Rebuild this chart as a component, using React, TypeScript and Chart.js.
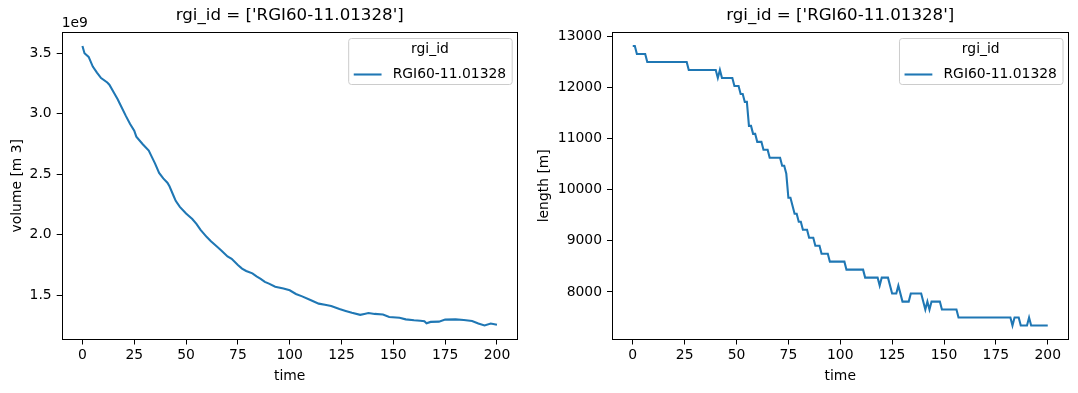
import { useEffect, useRef } from "react";
import { Chart, registerables } from "chart.js";

Chart.register(...registerables);

// Glacier evolution for a single glacier, yearly model output
const GLACIER = "RGI60-11.01328";

// Volume (m³) over time (years)
const VOLUME_TIME = [
  0, 1, 3, 5, 7, 9, 12, 13, 15, 17, 18, 21, 23, 25, 26, 29, 32, 33, 35, 37,
  39, 41, 42, 44, 45, 47, 50, 53, 55, 57, 60, 62, 65, 67, 70, 72, 75, 77, 79,
  82, 84, 86, 88, 90, 93, 97, 100, 103, 106, 110, 114, 117, 120, 124, 127, 130,
  134, 136, 138, 141, 145, 148, 153, 156, 160, 163, 165, 166, 168, 172, 175,
  180, 184, 188, 191, 194, 197, 200,
];
const VOLUME = [
  3.56e9, 3.5e9, 3.47e9, 3.39e9, 3.34e9, 3.295e9, 3.258e9, 3.24e9, 3.18e9,
  3.12e9, 3.085e9, 2.98e9, 2.915e9, 2.86e9, 2.81e9, 2.75e9, 2.695e9, 2.66e9,
  2.59e9, 2.51e9, 2.465e9, 2.43e9, 2.4e9, 2.32e9, 2.28e9, 2.23e9, 2.175e9,
  2.13e9, 2.09e9, 2.04e9, 1.98e9, 1.945e9, 1.9e9, 1.87e9, 1.82e9, 1.8e9,
  1.75e9, 1.72e9, 1.7e9, 1.68e9, 1.655e9, 1.635e9, 1.61e9, 1.595e9, 1.57e9,
  1.555e9, 1.54e9, 1.51e9, 1.49e9, 1.46e9, 1.43e9, 1.42e9, 1.41e9, 1.385e9,
  1.37e9, 1.355e9, 1.337e9, 1.345e9, 1.352e9, 1.345e9, 1.34e9, 1.32e9,
  1.314e9, 1.3e9, 1.292e9, 1.288e9, 1.284e9, 1.268e9, 1.279e9, 1.281e9,
  1.298e9, 1.3e9, 1.294e9, 1.287e9, 1.266e9, 1.249e9, 1.265e9, 1.255e9,
];

// Length (m) over time (years), listed where the length changes
const LENGTH_TIME = [
  0, 1, 2, 6, 7, 26, 27, 40, 41, 42, 43, 48, 49, 51, 52, 53, 54, 55, 56, 57,
  58, 59, 60, 62, 63, 65, 66, 71, 72, 73, 74, 75, 76, 78, 79, 80, 81, 82, 84,
  85, 87, 88, 90, 91, 94, 95, 102, 103, 111, 112, 118, 119, 120, 123, 125,
  127, 128, 130, 133, 134, 139, 140, 141, 142, 143, 144, 148, 149, 156, 157,
  182, 183, 184, 186, 187, 190, 191, 192, 200,
];
const LENGTH = [
  12820, 12820, 12663, 12663, 12507, 12507, 12350, 12350, 12194, 12350, 12194,
  12194, 12037, 12037, 11880, 11880, 11724, 11724, 11254, 11254, 11098, 11098,
  10941, 10941, 10785, 10785, 10628, 10628, 10471, 10471, 10315, 9845, 9845,
  9532, 9532, 9376, 9376, 9219, 9219, 9062, 9062, 8906, 8906, 8749, 8749, 8593,
  8593, 8436, 8436, 8280, 8280, 8123, 8280, 8280, 7967, 7967, 8123, 7810, 7810,
  7967, 7967, 7810, 7654, 7810, 7654, 7810, 7810, 7654, 7654, 7497, 7497, 7341,
  7497, 7497, 7341, 7341, 7497, 7341, 7341,
];

const TIME_TICKS = [0, 25, 50, 75, 100, 125, 150, 175, 200];
const VOLUME_TICKS = [1.5e9, 2.0e9, 2.5e9, 3.0e9, 3.5e9];
const LENGTH_TICKS = [8000, 9000, 10000, 11000, 12000, 13000];

const LINE_COLOR = "#1f77b4";
const FONT = '"DejaVu Sans", sans-serif';
const FS = 13.9;
const TITLE_FS = 16.67;
const HEIGHT = 393;

// Matplotlib-like 5% margins around the data range
function paddedRange(values: number[]) {
  const lo = Math.min(...values);
  const hi = Math.max(...values);
  const m = (hi - lo) * 0.05;
  return { min: lo - m, max: hi + m };
}

type PanelSpec = {
  time: number[];
  values: number[];
  yTicks: number[];
  yLabel: string;
  tickFormat: (v: number) => string;
  offsetText?: string;
  canvasLeft: number;
  canvasWidth: number;
  yAxisWidth: number;
  padRight: number;
  yTitlePad: number;
};

function framePlugin(spec: PanelSpec) {
  return {
    id: "panelDecor",
    afterDraw(chart: any) {
      const { ctx, chartArea: a } = chart;
      ctx.save();
      // axes frame
      ctx.strokeStyle = "#000";
      ctx.lineWidth = 1;
      const l = Math.round(a.left) + 0.5;
      const t = Math.round(a.top) + 0.5;
      const r = Math.round(a.right) - 0.5;
      const b = Math.round(a.bottom) - 0.5;
      ctx.strokeRect(l, t, r - l, b - t);

      // title
      ctx.fillStyle = "#000";
      ctx.font = `${TITLE_FS}px ${FONT}`;
      ctx.textAlign = "center";
      ctx.textBaseline = "alphabetic";
      ctx.fillText(`rgi_id = ['${GLACIER}']`, (a.left + a.right) / 2, 20);

      // scale offset text
      if (spec.offsetText) {
        ctx.font = `${FS}px ${FONT}`;
        ctx.textAlign = "left";
        ctx.fillText(spec.offsetText, a.left, a.top - 5);
      }

      // legend
      ctx.font = `${FS}px ${FONT}`;
      const tw = ctx.measureText(GLACIER).width;
      const pad = 0.4 * FS;
      const handle = 2 * FS;
      const gap = 0.8 * FS;
      const w = pad + handle + gap + tw + pad;
      const h = 46;
      const right = a.right - 6;
      const top = a.top + 6;
      const left = right - w;
      const rad = 0.2 * FS;
      ctx.beginPath();
      ctx.roundRect(left + 0.5, top + 0.5, w, h, rad);
      ctx.fillStyle = "rgba(255,255,255,0.8)";
      ctx.fill();
      ctx.strokeStyle = "#cccccc";
      ctx.lineWidth = 1;
      ctx.stroke();

      ctx.fillStyle = "#000";
      ctx.textAlign = "center";
      ctx.textBaseline = "middle";
      ctx.fillText("rgi_id", left + w / 2, top + 11);

      const rowY = top + 36.5;
      ctx.beginPath();
      ctx.moveTo(left + pad, rowY);
      ctx.lineTo(left + pad + handle, rowY);
      ctx.strokeStyle = LINE_COLOR;
      ctx.lineWidth = 2.08;
      ctx.stroke();

      ctx.fillStyle = "#000";
      ctx.textAlign = "left";
      ctx.fillText(GLACIER, left + pad + handle + gap, rowY);
      ctx.restore();
    },
  };
}

function makeConfig(spec: PanelSpec): any {
  const xr = paddedRange(spec.time);
  const yr = paddedRange(spec.values);
  const font = { family: FONT, size: FS };
  const data = spec.time.map((t, i) => ({ x: t, y: spec.values[i] }));
  return {
    type: "line",
    data: {
      datasets: [
        {
          label: GLACIER,
          data,
          borderColor: LINE_COLOR,
          borderWidth: 2.08,
          pointRadius: 0,
          tension: 0,
          fill: false,
        },
      ],
    },
    options: {
      responsive: false,
      animation: false,
      devicePixelRatio: 1,
      layout: { padding: { top: 32, right: spec.padRight, bottom: 0, left: 0 } },
      plugins: {
        legend: { display: false },
        title: { display: false },
        tooltip: { enabled: false },
      },
      scales: {
        x: {
          type: "linear",
          min: xr.min,
          max: xr.max,
          afterBuildTicks: (s: any) => {
            s.ticks = TIME_TICKS.map((v) => ({ value: v }));
          },
          afterFit: (s: any) => {
            s.height = HEIGHT - 339.5;
          },
          border: { display: false },
          grid: {
            drawOnChartArea: false,
            drawTicks: true,
            tickLength: 5,
            color: "#000",
            lineWidth: 1,
          },
          ticks: {
            color: "#000",
            font,
            padding: 3,
            maxRotation: 0,
            autoSkip: false,
            callback: (v: number) => String(v),
          },
          title: {
            display: true,
            text: "time",
            color: "#000",
            font,
            padding: { top: 0, bottom: 8.7 },
          },
        },
        y: {
          type: "linear",
          min: yr.min,
          max: yr.max,
          afterBuildTicks: (s: any) => {
            s.ticks = spec.yTicks.map((v) => ({ value: v }));
          },
          afterFit: (s: any) => {
            s.width = spec.yAxisWidth;
          },
          border: { display: false },
          grid: {
            drawOnChartArea: false,
            drawTicks: true,
            tickLength: 5,
            color: "#000",
            lineWidth: 1,
          },
          ticks: {
            color: "#000",
            font,
            padding: 5,
            autoSkip: false,
            callback: (v: number) => spec.tickFormat(v),
          },
          title: {
            display: true,
            text: spec.yLabel,
            color: "#000",
            font,
            padding: { top: spec.yTitlePad, bottom: 0 },
          },
        },
      },
    },
    plugins: [framePlugin(spec)],
  };
}

function Panel({ spec }: { spec: PanelSpec }) {
  const ref = useRef<HTMLCanvasElement>(null);
  useEffect(() => {
    const chart = new Chart(ref.current as HTMLCanvasElement, makeConfig(spec));
    return () => chart.destroy();
  }, [spec]);
  return (
    <canvas
      ref={ref}
      width={spec.canvasWidth}
      height={HEIGHT}
      style={{
        position: "absolute",
        left: spec.canvasLeft,
        top: 0,
        width: spec.canvasWidth,
        height: HEIGHT,
      }}
    />
  );
}

const VOLUME_PANEL: PanelSpec = {
  time: VOLUME_TIME,
  values: VOLUME,
  yTicks: VOLUME_TICKS,
  yLabel: "volume [m 3]",
  tickFormat: (v) => (v / 1e9).toFixed(1),
  offsetText: "1e9",
  canvasLeft: 0,
  canvasWidth: 539,
  yAxisWidth: 61.7,
  padRight: 21.3,
  yTitlePad: 8.7,
};

const LENGTH_PANEL: PanelSpec = {
  time: LENGTH_TIME,
  values: LENGTH,
  yTicks: LENGTH_TICKS,
  yLabel: "length [m]",
  tickFormat: (v) => String(v),
  canvasLeft: 530,
  canvasWidth: 548,
  yAxisWidth: 82,
  padRight: 9.5,
  yTitlePad: 5.7,
};

export default function App() {
  return (
    <div
      style={{
        position: "absolute",
        left: 0,
        top: 0,
        width: 1078,
        height: HEIGHT,
        background: "#fff",
      }}
    >
      <Panel spec={VOLUME_PANEL} />
      <Panel spec={LENGTH_PANEL} />
    </div>
  );
}
